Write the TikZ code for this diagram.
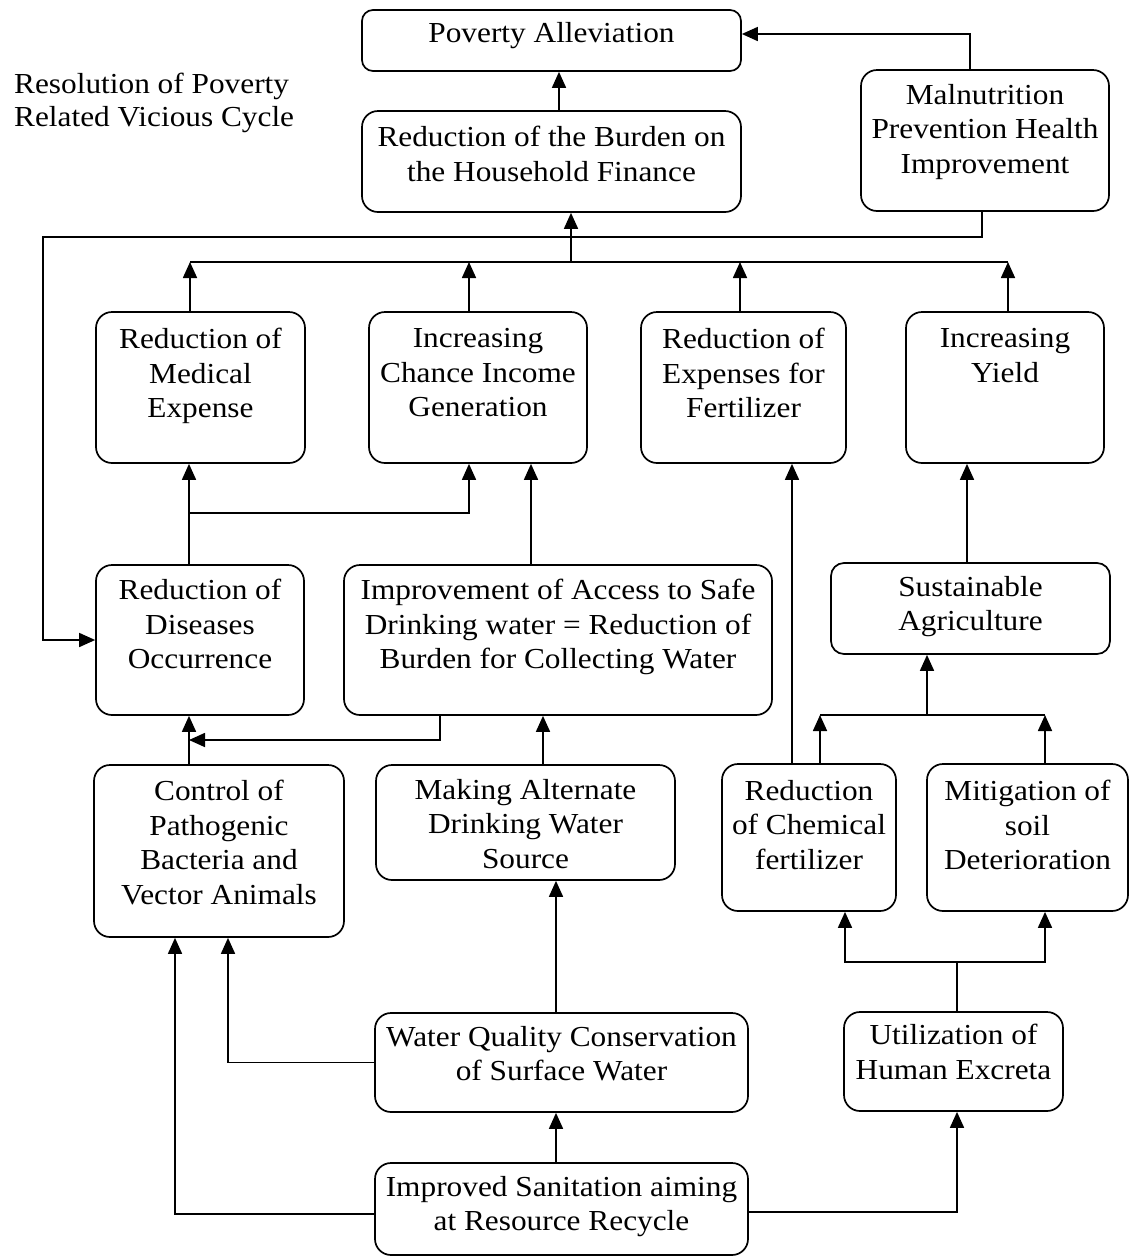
\documentclass[tikz,border=0pt]{standalone}
\usepackage{fontspec}
\setmainfont{Liberation Serif}[FakeStretch=1.08]
\usetikzlibrary{arrows.meta}
\begin{document}
\begin{tikzpicture}[x=1pt,y=-1pt,
  box/.style={draw, line width=1.7pt, rounded corners=16pt, inner sep=0pt},
  lbl/.style={align=center, inner sep=0pt, anchor=north, font=\fontsize{29}{34.5}\selectfont},
  conn/.style={line width=1.7pt},
  arr/.style={conn, -{Triangle[length=16pt,width=14pt]}}]
\useasboundingbox (0,0) rectangle (1136,1259);
% boxes
\node[box, rounded corners=11pt, minimum width=379pt, minimum height=61pt] (pov) at (551.5,40.5) {};
\node[box, minimum width=379pt, minimum height=101pt] (burden) at (551.5,161.5) {};
\node[box, minimum width=248pt, minimum height=141pt] (mal) at (985,140.5) {};
\node[box, minimum width=209pt, minimum height=151pt] (med) at (200.5,387.5) {};
\node[box, minimum width=218pt, minimum height=151pt] (inc) at (478,387.5) {};
\node[box, minimum width=205pt, minimum height=151pt] (fert) at (743.5,387.5) {};
\node[box, minimum width=198pt, minimum height=151pt] (yield) at (1005,387.5) {};
\node[box, minimum width=208pt, minimum height=150pt] (dis) at (200,640) {};
\node[box, minimum width=428pt, minimum height=150pt] (imp) at (558,640) {};
\node[box, rounded corners=13pt, minimum width=279pt, minimum height=91pt] (sus) at (970.5,608.5) {};
\node[box, minimum width=250pt, minimum height=172pt] (ctrl) at (219,851) {};
\node[box, minimum width=299pt, minimum height=115pt] (mak) at (525.5,822.5) {};
\node[box, minimum width=174pt, minimum height=147pt] (chem) at (809,837.5) {};
\node[box, minimum width=201pt, minimum height=147pt] (mit) at (1027.5,837.5) {};
\node[box, minimum width=373pt, minimum height=99pt] (wq) at (561.5,1062.5) {};
\node[box, minimum width=219pt, minimum height=99pt] (util) at (953.5,1061.5) {};
\node[box, minimum width=373pt, minimum height=92pt] (san) at (561.5,1209) {};
% labels
\node[lbl] (povt) at ([yshift=-13pt]pov.north) {Poverty Alleviation};
\node[lbl] (burdent) at ([yshift=-16pt]burden.north) {Reduction of the Burden on\\the Household Finance};
\node[lbl] (malt) at ([yshift=-15pt]mal.north) {Malnutrition\\Prevention Health\\Improvement};
\node[lbl] (medt) at ([yshift=-17pt]med.north) {Reduction of\\Medical\\Expense};
\node[lbl] (inct) at ([yshift=-17pt]inc.north) {Increasing\\Chance Income\\Generation};
\node[lbl] (fertt) at ([yshift=-17pt]fert.north) {Reduction of\\Expenses for\\Fertilizer};
\node[lbl] (yieldt) at ([yshift=-17pt]yield.north) {Increasing\\Yield};
\node[lbl] (dist) at ([yshift=-15pt]dis.north) {Reduction of\\Diseases\\Occurrence};
\node[lbl] (impt) at ([yshift=-15pt]imp.north) {Improvement of Access to Safe\\Drinking water = Reduction of\\Burden for Collecting Water};
\node[lbl] (sust) at ([yshift=-14pt]sus.north) {Sustainable\\Agriculture};
\node[lbl] (ctrlt) at ([yshift=-16pt]ctrl.north) {Control of\\Pathogenic\\Bacteria and\\Vector Animals};
\node[lbl] (makt) at ([yshift=-15pt]mak.north) {Making Alternate\\Drinking Water\\Source};
\node[lbl] (chemt) at ([yshift=-17pt]chem.north) {Reduction\\of Chemical\\fertilizer};
\node[lbl] (mitt) at ([yshift=-17pt]mit.north) {Mitigation of\\soil\\Deterioration};
\node[lbl] (wqt) at ([yshift=-14pt]wq.north) {Water Quality Conservation\\of Surface Water};
\node[lbl] (utilt) at ([yshift=-13pt]util.north) {Utilization of\\Human Excreta};
\node[lbl] (sant) at ([yshift=-14pt]san.north) {Improved Sanitation aiming\\at Resource Recycle};
\node[lbl, anchor=north west, align=left, font=\fontsize{29}{33}\selectfont] (title) at (14,73) {Resolution of Poverty\\Related Vicious Cycle};
% junction coordinates
\coordinate (busL) at (190,262);
\coordinate (busR) at (1008,262);
\coordinate (busM) at (571,262);
\coordinate (lft) at (43,237);
\coordinate (j1) at (189,513);
\coordinate (j2) at (189,740);
\coordinate (bus2L) at (820,715);
\coordinate (bus2R) at (1045,715);
\coordinate (bus2M) at (927,715);
\coordinate (ut) at (957,962);
% connectors
\draw[arr] (burden.north -| 559,0) -- (pov.south -| 559,0);
\draw[arr] (mal.north -| 970,0) |- (pov.east |- 0,34);
\draw[arr] (mal.south -| 982,0) |- (lft) |- (dis.west);
\draw[conn] (busL) -- (busR);
\draw[arr] (busM) -- (burden.south -| busM);
\draw[arr] (med.north -| busL) -- (busL);
\draw[arr] (inc.north -| 469,0) -- (busL -| 469,0);
\draw[arr] (fert.north -| 740,0) -- (busL -| 740,0);
\draw[arr] (yield.north -| busR) -- (busR);
\draw[arr] (dis.north -| j1) -- (med.south -| j1);
\draw[arr] (j1) -| (inc.south -| 469,0);
\draw[arr] (imp.north -| 531,0) -- (inc.south -| 531,0);
\draw[arr] (chem.north -| 792,0) -- (fert.south -| 792,0);
\draw[arr] (sus.north -| 967,0) -- (yield.south -| 967,0);
\draw[conn] (bus2L) -- (bus2R);
\draw[arr] (chem.north -| bus2L) -- (bus2L);
\draw[arr] (mit.north -| bus2R) -- (bus2R);
\draw[arr] (bus2M) -- (sus.south -| bus2M);
\draw[arr] (ctrl.north -| j2) -- (dis.south -| j2);
\draw[arr] (imp.south -| 440,0) |- (j2);
\draw[arr] (mak.north -| 543,0) -- (imp.south -| 543,0);
\draw[arr] (wq.north -| 556,0) -- (mak.south -| 556,0);
\draw[arr] (san.north -| 556,0) -- (wq.south -| 556,0);
\draw[arr] (wq.west) -| (ctrl.south -| 228,0);
\draw[arr] (san.west |- 0,1214) -| (ctrl.south -| 175,0);
\draw[arr] (san.east |- 0,1212) -| (util.south -| ut);
\draw[conn] (util.north -| ut) -- (ut);
\draw[arr] (ut) -| (chem.south -| 845,0);
\draw[arr] (ut) -| (mit.south -| bus2R);
\end{tikzpicture}
\end{document}
